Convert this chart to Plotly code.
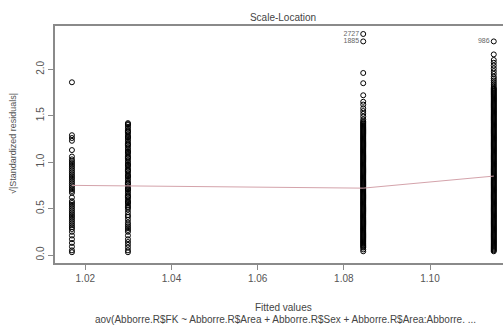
import plotly.graph_objects as go

# Fitted values (one per group) and sqrt(|standardized residuals|) per group
fitted_groups = [1.0169, 1.0299, 1.0845, 1.1148]

resid_g1 = [1.86, 1.29, 1.26, 1.23, 1.13, 1.06, 1.03, 1.01, 0.99, 0.97, 0.95, 0.93,
            0.91, 0.89, 0.87, 0.85, 0.83, 0.81, 0.79, 0.77, 0.75, 0.73, 0.71, 0.69,
            0.67, 0.62, 0.58, 0.56, 0.54, 0.52, 0.50, 0.48, 0.46, 0.44, 0.42, 0.40,
            0.38, 0.36, 0.34, 0.32, 0.30, 0.28, 0.25, 0.21, 0.17, 0.13, 0.09, 0.05, 0.03]

resid_g2 = [1.42, 1.40, 1.38, 1.36, 1.34, 1.32, 1.30, 1.28, 1.26, 1.24, 1.22, 1.20,
            1.18, 1.16, 1.14, 1.12, 1.10, 1.08, 1.06, 1.04, 1.02, 1.00, 0.98, 0.96,
            0.94, 0.92, 0.90, 0.88, 0.86, 0.84, 0.82, 0.80, 0.78, 0.76, 0.74, 0.72,
            0.70, 0.68, 0.66, 0.64, 0.62, 0.60, 0.58, 0.56, 0.54, 0.52, 0.49, 0.46,
            0.43, 0.41, 0.38, 0.35, 0.33, 0.31, 0.29, 0.27, 0.25, 0.21, 0.17, 0.14,
            0.11, 0.08, 0.05, 0.03,
            1.41, 1.33, 1.27, 1.19, 1.11, 1.05, 0.97, 0.91, 0.85, 0.77, 0.71, 0.63,
            0.57, 0.51]

resid_g3 = [1.96, 1.85, 1.72, 1.65, 1.62, 1.58, 1.55, 1.52, 1.49, 1.46, 1.44, 1.42,
            1.40, 1.38, 1.36, 1.34, 1.32, 1.30, 1.28, 1.26, 1.24, 1.22, 1.20, 1.18,
            1.16, 1.14, 1.12, 1.10, 1.08, 1.06, 1.04, 1.02, 1.00, 0.98, 0.96, 0.94,
            0.92, 0.90, 0.88, 0.86, 0.84, 0.82, 0.80, 0.78, 0.76, 0.74, 0.72, 0.70,
            0.68, 0.66, 0.64, 0.62, 0.60, 0.58, 0.56, 0.54, 0.52, 0.50, 0.48, 0.46,
            0.44, 0.42, 0.40, 0.38, 0.36, 0.34, 0.32, 0.30, 0.28, 0.26, 0.24, 0.22,
            0.20, 0.18, 0.16, 0.14, 0.12, 0.10, 0.08, 0.06, 0.04,
            1.43, 1.41, 1.39, 1.37, 1.35, 1.33, 1.31, 1.29, 1.27, 1.25, 1.23, 1.21,
            1.19, 1.17, 1.15, 1.13, 1.11, 1.09, 1.07, 1.05, 1.03, 1.01, 0.99, 0.97,
            0.95, 0.93, 0.91, 0.89, 0.87, 0.85, 0.83, 0.81, 0.79, 0.77, 0.75, 0.73,
            0.71, 0.69, 0.67, 0.65, 0.63, 0.61, 0.59, 0.57, 0.55, 0.53, 0.51, 0.49,
            0.47, 0.45, 0.43, 0.41, 0.39, 0.37, 0.35, 0.33, 0.31, 0.29, 0.27, 0.25,
            0.23, 0.21, 0.19, 0.17, 0.15, 0.13, 0.11, 0.09]

resid_g4 = [2.16, 2.10, 2.07, 2.04, 2.01, 1.98, 1.95, 1.92, 1.90, 1.88, 1.86, 1.84,
            1.82, 1.80, 1.78, 1.76, 1.74, 1.72, 1.70, 1.68, 1.66, 1.64, 1.62, 1.60,
            1.58, 1.56, 1.54, 1.52, 1.50, 1.48, 1.46, 1.44, 1.42, 1.40, 1.38, 1.36,
            1.34, 1.32, 1.30, 1.28, 1.26, 1.24, 1.22, 1.20, 1.18, 1.16, 1.14, 1.12,
            1.10, 1.08, 1.06, 1.04, 1.02, 1.00, 0.98, 0.96, 0.94, 0.92, 0.90, 0.88,
            0.86, 0.84, 0.82, 0.80, 0.78, 0.76, 0.74, 0.72, 0.70, 0.68, 0.66, 0.64,
            0.62, 0.60, 0.58, 0.56, 0.54, 0.52, 0.50, 0.48, 0.46, 0.44, 0.42, 0.40,
            0.38, 0.36, 0.34, 0.32, 0.30, 0.28, 0.26, 0.24, 0.22, 0.20, 0.18, 0.16,
            0.14, 0.12, 0.10, 0.08, 0.06, 0.04,
            1.79, 1.77, 1.75, 1.73, 1.71, 1.69, 1.67, 1.65, 1.63, 1.61, 1.59, 1.57,
            1.55, 1.53, 1.51, 1.49, 1.47, 1.45, 1.43, 1.41, 1.39, 1.37, 1.35, 1.33,
            1.31, 1.29, 1.27, 1.25, 1.23, 1.21, 1.19, 1.17, 1.15, 1.13, 1.11, 1.09,
            1.07, 1.05, 1.03, 1.01, 0.99, 0.97, 0.95, 0.93, 0.91, 0.89, 0.87, 0.85,
            0.83, 0.81, 0.79, 0.77, 0.75, 0.73, 0.71, 0.69, 0.67, 0.65, 0.63, 0.61,
            0.59, 0.57, 0.55, 0.53, 0.51, 0.49, 0.47, 0.45, 0.43, 0.41, 0.39, 0.37,
            0.35, 0.33, 0.31, 0.29, 0.27, 0.25, 0.23, 0.21, 0.19, 0.17, 0.15, 0.13,
            0.11, 0.09, 0.07, 0.05]

# Labelled outliers
outlier_ids = ["2727", "1885", "986"]
outlier_x = [1.0845, 1.0845, 1.1148]
outlier_y = [2.38, 2.30, 2.30]

# Smoother (lowess) evaluated at group fitted values
smooth_x = [1.0169, 1.0299, 1.0845, 1.1148]
smooth_y = [0.75, 0.745, 0.72, 0.85]

x_ticks = [1.02, 1.04, 1.06, 1.08, 1.10]
x_tick_labels = ["1.02", "1.04", "1.06", "1.08", "1.10"]
y_ticks = [0.0, 0.5, 1.0, 1.5, 2.0]
y_tick_labels = ["0.0", "0.5", "1.0", "1.5", "2.0"]

groups = [resid_g1, resid_g2, resid_g3, resid_g4]
xs, ys = [], []
for fv, res in zip(fitted_groups, groups):
    xs += [fv] * len(res)
    ys += res

FONT = "Liberation Sans, Arial, sans-serif"
TXT = "#555555"
AX = "#8a8a8a"

fig = go.Figure()
fig.add_trace(go.Scatter(
    x=xs, y=ys, mode="markers",
    marker=dict(symbol="circle-open", size=5, color="black", line=dict(width=1)),
    hoverinfo="skip", showlegend=False))
fig.add_trace(go.Scatter(
    x=outlier_x, y=outlier_y, mode="markers+text", text=outlier_ids,
    textposition="middle left", textfont=dict(family=FONT, size=7, color="#666666"),
    marker=dict(symbol="circle-open", size=5, color="black", line=dict(width=1)),
    showlegend=False))
fig.add_trace(go.Scatter(
    x=smooth_x, y=smooth_y, mode="lines",
    line=dict(color="#d4a3ab", width=1), showlegend=False))

fig.update_layout(
    width=503, height=329,
    margin=dict(l=55, r=0, t=26, b=66),
    paper_bgcolor="white", plot_bgcolor="white",
    font=dict(family=FONT, size=10, color=TXT),
    title=dict(text="Scale-Location", x=283 / 503, xanchor="center",
               y=1 - 17 / 329, yanchor="middle",
               font=dict(family=FONT, size=10, color="#444444")),
    xaxis=dict(range=[1.01297, 1.11694], tickvals=x_ticks, ticktext=x_tick_labels,
               showgrid=False, zeroline=False, showline=True, linecolor=AX,
               linewidth=1.5, mirror=True, ticks="outside", ticklen=5,
               tickcolor=AX, tickfont=dict(size=10, color=TXT)),
    yaxis=dict(range=[-0.086, 2.466], tickvals=y_ticks, ticktext=y_tick_labels,
               showgrid=False, zeroline=False, showline=True, linecolor=AX,
               linewidth=1.5, ticks="outside", ticklen=5, tickcolor=AX,
               tickangle=-90, tickfont=dict(size=10, color=TXT)),
    annotations=[
        dict(text="Fitted values", xref="paper", yref="paper",
             x=(283 - 55) / 448, y=(263 - 307) / 237, showarrow=False,
             xanchor="center", yanchor="middle",
             font=dict(family=FONT, size=10, color="#444444")),
        dict(text="aov(Abborre.R$FK ~ Abborre.R$Area + Abborre.R$Sex + Abborre.R$Area:Abborre. ...",
             xref="paper", yref="paper",
             x=(285 - 55) / 448, y=(263 - 319) / 237, showarrow=False,
             xanchor="center", yanchor="middle",
             font=dict(family=FONT, size=10, color="#444444")),
        dict(text="√|Standardized residuals|", xref="paper", yref="paper",
             x=(13 - 55) / 448, y=(263 - 144) / 237, showarrow=False,
             textangle=-90, xanchor="center", yanchor="middle",
             font=dict(family=FONT, size=9, color="#555555")),
    ],
)

fig.write_html("out.html")
